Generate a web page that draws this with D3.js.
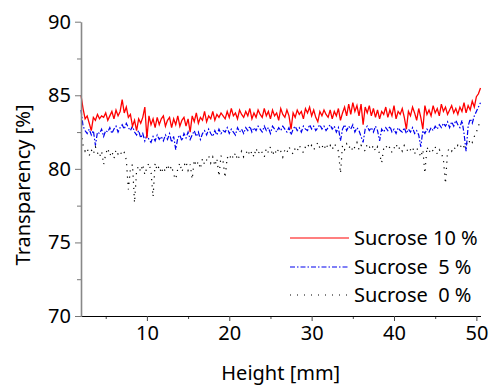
<!DOCTYPE html>
<html>
<head>
<meta charset="utf-8">
<script src="https://cdn.jsdelivr.net/npm/d3@7"></script>
<style>
  body { margin: 0; background: #fff; }
  text { font-family: "Noto Sans", sans-serif; }
</style>
</head>
<body>
<div id="chart"></div>
<script>
// sampling grid: heights in mm, every 0.25 mm from 2 to 50.5
const heights = d3.range(0, 195).map(i => 2 + i * 0.25);

const sucrose10 = [
  85.0, 84.1, 83.4, 83.6, 83.1, 82.6, 83.5, 83.3, 83.7, 83.4, 83.6, 83.5, 83.8, 83.3, 83.6, 83.9, 83.4, 84.0, 83.6, 83.9,
  84.7, 83.8, 84.2, 83.5, 83.7, 82.9, 83.3, 82.6, 83.4, 83.1, 83.5, 84.2, 82.1, 83.6, 83.0, 83.4, 82.8, 83.5, 83.0, 83.4,
  83.6, 82.9, 83.3, 83.5, 82.8, 83.4, 83.0, 83.6, 82.9, 83.3, 83.5, 82.9, 83.4, 82.5, 83.6, 83.2, 83.8, 83.1, 83.5, 83.3,
  83.9, 83.2, 83.6, 83.4, 83.9, 83.3, 83.7, 83.5, 83.8, 83.6, 83.4, 83.9, 83.5, 84.1, 83.6, 83.8, 83.4, 84.0, 83.7, 83.5,
  83.9, 83.6, 84.1, 83.4, 83.8, 83.5, 84.0, 83.7, 83.5, 84.1, 83.6, 83.9, 83.4, 84.0, 83.6, 83.8, 83.3, 84.1, 83.7, 83.5,
  84.0, 83.6, 82.7, 83.8, 83.5, 84.0, 83.7, 83.9, 83.4, 84.1, 83.8, 84.2, 83.6, 84.0, 83.5, 83.2, 83.9, 83.6, 84.0, 83.7,
  83.5, 84.0, 83.4, 83.9, 83.6, 84.1, 83.3, 83.8, 84.2, 83.6, 84.4, 83.7, 84.5, 83.9, 84.3, 83.6, 84.4, 83.0, 84.2, 83.8,
  84.3, 83.6, 84.1, 83.5, 84.0, 83.4, 83.9, 83.7, 84.2, 83.5, 84.0, 83.6, 84.3, 83.4, 83.9, 83.7, 84.1, 83.5, 82.7, 83.9,
  83.6, 84.2, 83.8, 83.3, 84.1, 83.5, 82.7, 84.3, 83.7, 84.0, 83.6, 84.3, 83.8, 84.1, 83.6, 84.4, 83.9, 84.2, 83.7, 84.0,
  84.3, 83.8, 84.1, 83.7, 84.2, 83.9, 84.5, 83.8, 84.3, 84.0, 84.6, 84.2, 84.9, 85.1, 85.5
];

const sucrose5 = [
  84.0, 82.9, 82.6, 82.4, 82.7, 82.3, 82.6, 81.6, 82.5, 82.4, 82.7, 82.2, 82.6, 82.5, 82.8, 82.4, 82.7, 82.9, 82.5, 82.8,
  83.0, 82.7, 83.1, 82.8, 82.6, 82.9, 82.5, 82.3, 82.6, 82.1, 82.4, 81.9, 82.3, 82.0, 81.8, 82.2, 81.9, 82.3, 82.0, 82.2,
  81.9, 82.3, 82.0, 82.4, 81.8, 82.2, 81.3, 82.1, 82.3, 81.9, 82.4, 82.1, 82.5, 82.0, 82.3, 82.6, 82.2, 82.5, 82.0, 82.4,
  82.6, 82.3, 82.7, 82.4, 82.2, 82.6, 82.3, 82.7, 82.4, 82.6, 82.5, 82.8, 82.4, 82.7, 82.5, 82.3, 82.8, 82.5, 82.7, 82.4,
  82.8, 82.6, 82.9, 82.5, 82.8, 82.6, 82.9, 82.7, 82.5, 82.9, 82.6, 82.8, 82.4, 82.9, 82.7, 82.5, 82.8, 82.6, 82.9, 82.7,
  82.5, 82.8, 82.3, 82.7, 82.9, 82.6, 82.8, 82.5, 82.9, 82.7, 82.6, 83.0, 82.7, 82.9, 82.6, 82.8, 83.0, 82.7, 82.9, 82.6,
  82.8, 83.0, 82.7, 82.9, 82.5, 82.8, 81.9, 82.7, 83.0, 82.6, 82.9, 82.7, 83.0, 82.5, 82.8, 82.6, 82.2, 81.8, 82.7, 82.9,
  82.6, 82.8, 82.5, 82.9, 82.6, 81.9, 82.7, 82.5, 82.8, 82.6, 82.9, 82.5, 82.7, 82.4, 82.8, 82.6, 82.5, 82.8, 82.4, 82.7,
  82.5, 82.8, 82.4, 82.6, 82.3, 81.5, 82.6, 82.4, 82.7, 82.5, 82.8, 82.6, 82.9, 82.7, 83.0, 82.8, 83.1, 82.9, 83.2, 82.8,
  83.2, 82.9, 83.3, 83.0, 82.8, 83.3, 82.4, 81.2, 82.9, 83.4, 83.1, 83.6, 83.9, 84.2, 84.5
];

const sucrose0 = [
  82.5, 81.6, 81.2, 81.4, 80.9, 81.3, 81.0, 81.5, 81.1, 80.8, 81.2, 80.3, 81.0, 81.4, 80.9, 81.2, 80.7, 81.3, 81.0, 81.2,
  80.9, 81.1, 80.6, 78.6, 80.0, 80.3, 77.7, 79.9, 80.2, 79.8, 80.3, 79.6, 80.1, 80.4, 79.8, 78.1, 80.4, 79.9, 80.2, 79.7,
  80.1, 79.8, 80.3, 79.9, 80.2, 79.6, 79.3, 80.0, 80.4, 79.8, 80.2, 80.5, 79.9, 80.3, 79.3, 80.6, 80.2, 80.5, 80.0, 80.7,
  80.3, 80.6, 80.9, 80.4, 80.8, 80.2, 80.7, 79.5, 80.9, 80.5, 79.4, 80.8, 80.6, 81.0, 80.7, 81.1, 80.6, 80.9, 81.2, 80.8,
  81.0, 81.3, 80.9, 81.2, 80.8, 81.4, 81.0, 81.3, 81.1, 80.8, 81.4, 81.1, 81.5, 80.9, 81.3, 81.0, 81.4, 81.2, 80.8, 81.3,
  81.1, 81.5, 81.2, 81.0, 81.4, 81.2, 81.6, 81.3, 81.1, 81.5, 81.7, 81.4, 81.6, 81.3, 81.5, 81.8, 81.4, 81.6, 81.3, 81.7,
  81.4, 81.6, 81.3, 81.7, 81.5, 81.2, 79.7, 81.6, 81.3, 81.7, 81.4, 81.6, 81.2, 81.5, 81.8, 81.3, 81.6, 81.4, 81.2, 81.7,
  81.5, 81.3, 81.6, 81.2, 81.5, 81.0, 80.4, 81.4, 81.6, 81.3, 81.5, 81.1, 81.4, 81.7, 81.3, 81.5, 81.2, 81.6, 81.4, 81.1,
  81.3, 81.5, 81.0, 81.4, 81.2, 80.8, 81.3, 79.7, 81.5, 81.1, 81.4, 81.2, 81.5, 81.0, 81.3, 81.1, 80.6, 79.0, 81.2, 81.4,
  81.2, 81.5, 81.3, 81.6, 81.4, 81.7, 81.5, 81.8, 81.6, 82.0, 81.8, 82.2, 82.5, 82.9, 83.3
];

const seriesNames = ["Sucrose 10 %", "Sucrose\u00a0 5 %", "Sucrose\u00a0 0 %"];
const xTicks = [10, 20, 30, 40, 50];
const yTicks = [70, 75, 80, 85, 90];

const width = 494, height = 385;
const margin = { top: 21.7, right: 13.5, bottom: 69, left: 81 };
const fs = 20;

const svg = d3.select("#chart").append("svg")
  .attr("width", width)
  .attr("height", height);

const x = d3.scaleLinear().domain([2, 50.5]).range([margin.left, width - margin.right]);
const y = d3.scaleLinear().domain([70, 90]).range([height - margin.bottom, margin.top]);

const styles = [
  { color: "#ff0000", dash: null, w: 1.3 },
  { color: "#0000ee", dash: "5,2,1.5,2", w: 1.2 },
  { color: "#000000", dash: "1.2,5", w: 1.2 }
];
const allSeries = [sucrose10, sucrose5, sucrose0];

// lines (drawn back to front: 0 %, 5 %, 10 %)
const line = d3.line().x((d, i) => x(heights[i])).y(d => y(d));
[2, 1, 0].forEach(k => {
  svg.append("path")
    .datum(allSeries[k])
    .attr("fill", "none")
    .attr("stroke", styles[k].color)
    .attr("stroke-width", styles[k].w)
    .attr("stroke-dasharray", styles[k].dash)
    .attr("d", line);
});

// x axis
const xAxisG = svg.append("g")
  .attr("transform", `translate(0,${y(70)})`);
xAxisG.append("g")
  .call(d3.axisBottom(x).tickValues([5, 15, 25, 35, 45]).tickSize(3).tickFormat(""))
  .call(g => g.select(".domain").remove())
  .call(g => g.selectAll("line").attr("stroke", "#444"));
xAxisG.append("g")
  .call(d3.axisBottom(x).tickValues(xTicks).tickSize(5).tickSizeOuter(0).tickPadding(5))
  .call(g => g.select(".domain").attr("stroke", "#000").attr("stroke-width", 1.2))
  .call(g => g.selectAll("line").attr("stroke", "#444"))
  .call(g => g.selectAll("text").attr("font-size", fs).attr("fill", "#000"));

// y axis
const yAxisG = svg.append("g")
  .attr("transform", `translate(${x(2)},0)`);
yAxisG.append("g")
  .call(d3.axisLeft(y).tickValues([72.5, 77.5, 82.5, 87.5]).tickSize(4).tickFormat(""))
  .call(g => g.select(".domain").remove())
  .call(g => g.selectAll("line").attr("stroke", "#777"));
yAxisG.append("g")
  .call(d3.axisLeft(y).tickValues(yTicks).tickSize(6).tickSizeOuter(0).tickPadding(4))
  .call(g => g.select(".domain").attr("stroke", "#888").attr("stroke-width", 1.6))
  .call(g => g.selectAll("line").attr("stroke", "#777"))
  .call(g => g.selectAll("text").attr("font-size", fs).attr("fill", "#000"));

// axis titles
svg.append("text")
  .attr("x", (x(2) + x(50.5)) / 2)
  .attr("y", 380)
  .attr("text-anchor", "middle")
  .attr("font-size", fs)
  .text("Height [mm]");

svg.append("text")
  .attr("transform", `translate(30,185) rotate(-90)`)
  .attr("text-anchor", "middle")
  .attr("font-size", fs)
  .text("Transparency [%]");

// legend
const legend = svg.append("g");
const rowsY = [238, 267, 295];
seriesNames.forEach((name, k) => {
  legend.append("line")
    .attr("x1", 290).attr("x2", 349)
    .attr("y1", rowsY[k]).attr("y2", rowsY[k])
    .attr("stroke", styles[k].color)
    .attr("stroke-width", 1.1)
    .attr("stroke-dasharray", k === 2 ? "1,6" : styles[k].dash);
  legend.append("text")
    .attr("x", 354)
    .attr("y", rowsY[k] + 7)
    .attr("font-size", fs)
    .text(name);
});
</script>
</body>
</html>
